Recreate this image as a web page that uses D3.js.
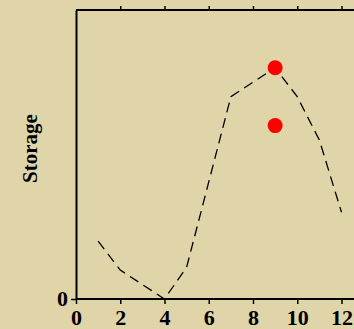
<!DOCTYPE html>
<html>
<head>
<meta charset="utf-8">
<script src="https://cdn.jsdelivr.net/npm/d3@7"></script>
<style>
  body { margin: 0; background: #e0d5a8; }
  svg { display: block; }
</style>
</head>
<body>
<div id="chart"></div>
<script>
// monthly storage curve and two observed points
const months = [1, 2, 3, 4, 5, 6, 7, 8, 9, 10, 11, 12];
const storage = [20, 10, 5, 0, 11, 40.5, 70, 75, 80, 70, 55, 30];
const obsX = [9, 9];
const obsY = [80, 60];
const xTicks = [0, 2, 4, 6, 8, 10, 12];
const yTicks = [0];

const width = 354, height = 329;
const margin = { top: 10, bottom: 30, left: 76 };

const svg = d3.select("#chart").append("svg")
  .attr("width", width)
  .attr("height", height)
  .style("background", "#e0d5a8");

const x = d3.scaleLinear().domain([0, 12]).range([margin.left, 341.5]);
const y = d3.scaleLinear().domain([0, 100]).range([height - margin.bottom, margin.top]);

const font = "'Liberation Serif', 'Times New Roman', serif";

// bottom axis
const xAxis = svg.append("g")
  .attr("transform", `translate(0,${y(0)})`)
  .call(d3.axisBottom(x).tickValues(xTicks).tickSize(5).tickPadding(6).tickSizeOuter(0));
xAxis.select(".domain").attr("d", `M${x(0)},0H${width}`);

// top axis, ticks only, no labels
const xTop = svg.append("g")
  .attr("transform", `translate(0,${y(100)})`)
  .call(d3.axisTop(x).tickValues(xTicks.slice(1)).tickSize(4).tickFormat("").tickSizeOuter(0));
xTop.select(".domain").attr("d", `M${x(0)},0H${width}`);

// left axis
const yAxis = svg.append("g")
  .attr("transform", `translate(${x(0)},0)`)
  .call(d3.axisLeft(y).tickValues(yTicks).tickSize(5).tickPadding(3).tickSizeOuter(0));

svg.selectAll(".domain").attr("stroke", "#000").attr("stroke-width", 2);
svg.selectAll(".tick line").attr("stroke", "#000").attr("stroke-width", 1.5);
svg.selectAll(".tick text")
  .attr("fill", "#000")
  .style("font-family", font)
  .style("font-weight", "bold")
  .style("font-size", "22px");
xAxis.selectAll(".tick text").attr("dy", "0.68em");
yAxis.selectAll(".tick text").attr("dy", "0.3em");

// y label
svg.append("text")
  .attr("transform", `translate(37,${(y(0) + y(100)) / 2 - 6}) rotate(-90)`)
  .attr("text-anchor", "middle")
  .style("font-family", font)
  .style("font-weight", "bold")
  .style("font-size", "21px")
  .text("Storage");

// dashed curve
const line = d3.line()
  .x((d, i) => x(months[i]))
  .y(d => y(d));

svg.append("path")
  .datum(storage)
  .attr("d", line)
  .attr("fill", "none")
  .attr("stroke", "#000")
  .attr("stroke-width", 1.3)
  .attr("stroke-dasharray", "10,6");

// observed points
svg.selectAll(".obs")
  .data(obsX)
  .enter().append("circle")
  .attr("class", "obs")
  .attr("cx", d => x(d))
  .attr("cy", (d, i) => y(obsY[i]))
  .attr("r", 7.5)
  .attr("fill", "#ff0000");
</script>
</body>
</html>
